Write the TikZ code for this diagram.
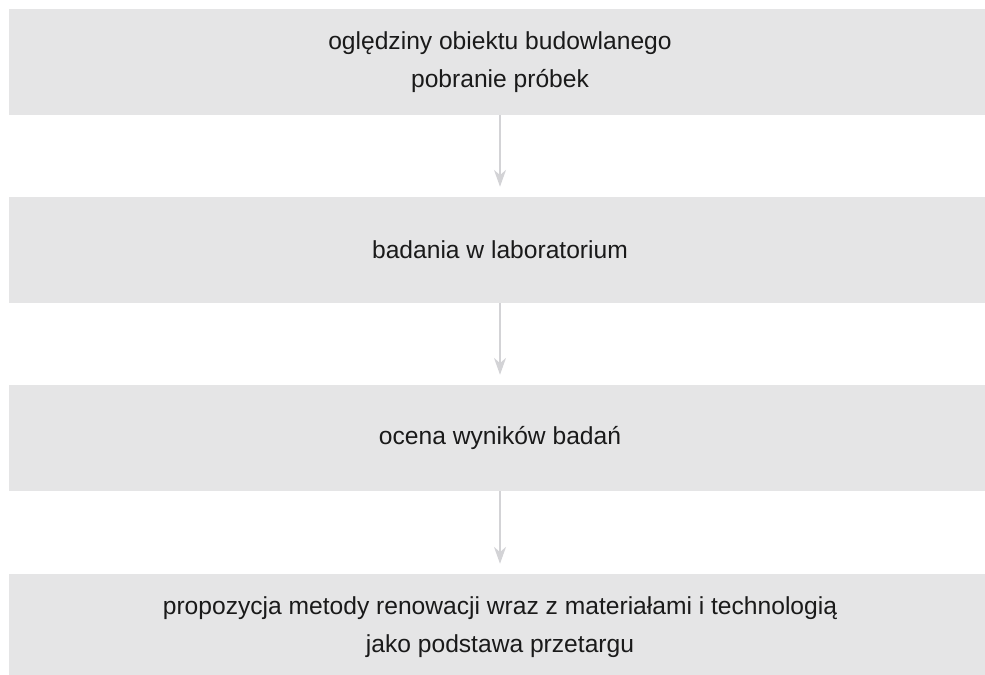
\documentclass[tikz,border=0pt]{standalone}
\usepackage{fontspec}
\setmainfont{Liberation Sans}
\usepackage{xcolor}
\usepackage{tikz}
\usetikzlibrary{arrows.meta,positioning}
\definecolor{boxc}{HTML}{E5E5E6}
\definecolor{arrc}{HTML}{D3D3D6}
\definecolor{txtc}{HTML}{1A1A1A}
\tikzset{
  bx/.style={rectangle,fill=boxc,minimum width=24.55cm,minimum height=2.65cm,inner sep=0pt,align=center,text=txtc,font=\fontsize{17.5}{27}\selectfont},
  ar/.style={-{Stealth[length=4.2mm,width=3mm,inset=1.3mm]},line width=0.9pt,arrc,shorten >=0.25cm}
}

\begin{document}
\begin{tikzpicture}[x=0.025cm,y=-0.025cm]
\useasboundingbox (0,0) rectangle (985,675);
\node[bx] (insp) at (500,62) {oględziny obiektu budowlanego\\pobranie próbek};
\node[bx] (lab) at (500,250) {badania w laboratorium};
\node[bx] (eval) at (500,438) {ocena wyników badań};
\node[bx] (prop) at (500,627) {propozycja metody renowacji wraz z materiałami i technologią\\jako podstawa przetargu};
\draw[ar] (insp) -- (lab);
\draw[ar] (lab) -- (eval);
\draw[ar] (eval) -- (prop);
\end{tikzpicture}
\end{document}
